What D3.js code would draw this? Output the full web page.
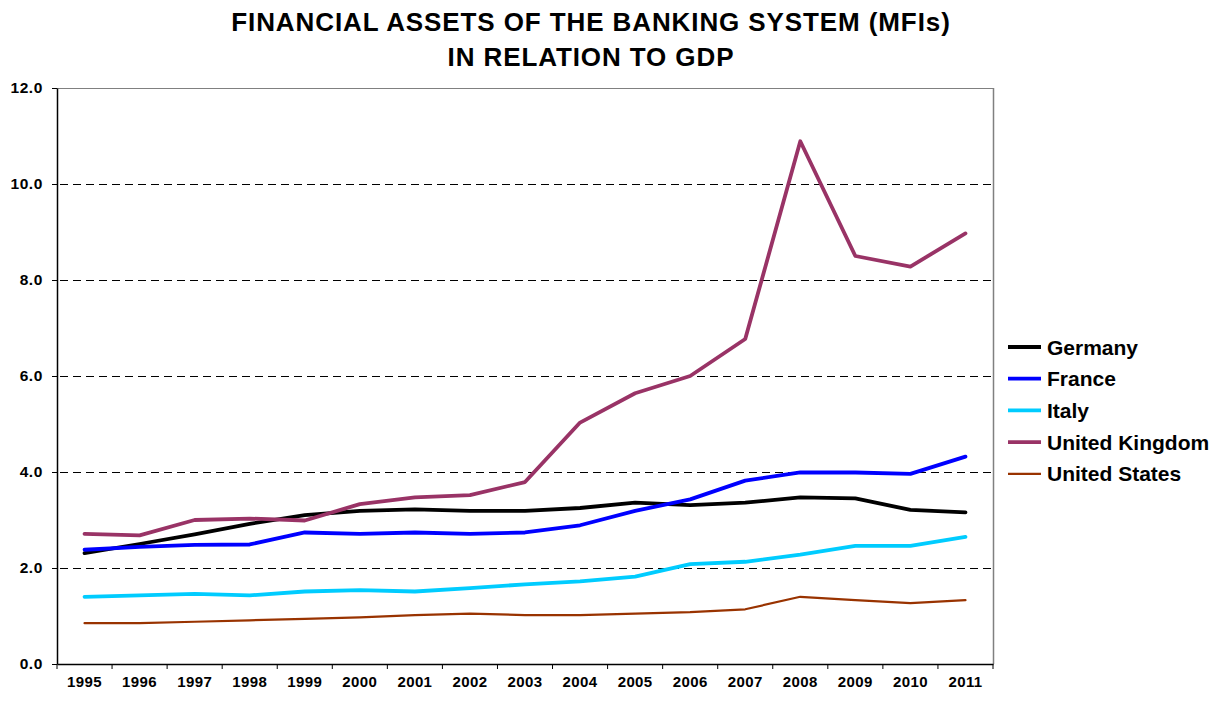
<!DOCTYPE html>
<html>
<head>
<meta charset="utf-8">
<script src="https://cdn.jsdelivr.net/npm/d3@7"></script>
<style>
  html, body { margin: 0; padding: 0; background: #fff; }
  svg { display: block; font-family: "Liberation Sans", Arial, sans-serif; }
</style>
</head>
<body>
<svg id="chart" width="1224" height="702"></svg>
<script>
// Banking system (MFI) financial assets as a multiple of GDP
const years = ["1995","1996","1997","1998","1999","2000","2001","2002","2003",
               "2004","2005","2006","2007","2008","2009","2010","2011"];
const germany = [2.31,2.50,2.70,2.92,3.10,3.19,3.22,3.19,3.19,3.25,3.36,3.31,3.36,3.47,3.45,3.21,3.16];
const france  = [2.38,2.44,2.48,2.49,2.74,2.71,2.74,2.71,2.74,2.89,3.19,3.43,3.82,3.99,3.99,3.96,4.32];
const italy   = [1.40,1.43,1.46,1.43,1.51,1.54,1.51,1.58,1.66,1.72,1.82,2.08,2.13,2.28,2.46,2.46,2.65];
const uk      = [2.71,2.68,3.00,3.03,2.99,3.33,3.47,3.52,3.79,5.03,5.64,6.00,6.77,10.89,8.50,8.28,8.97];
const us      = [0.85,0.85,0.88,0.91,0.94,0.97,1.02,1.05,1.02,1.02,1.05,1.08,1.14,1.40,1.33,1.27,1.33];
const seriesNames = ["Germany","France","Italy","United Kingdom","United States"];
const yTicks = [0,2,4,6,8,10,12];
const titleLines = ["FINANCIAL ASSETS OF THE BANKING SYSTEM (MFIs)", "IN RELATION TO GDP"];

const series = [
  { name: seriesNames[0], values: germany, color: "#000000", width: 3.8 },
  { name: seriesNames[1], values: france,  color: "#0000ff", width: 3.8 },
  { name: seriesNames[2], values: italy,   color: "#00ccff", width: 3.8 },
  { name: seriesNames[3], values: uk,      color: "#993366", width: 3.8 },
  { name: seriesNames[4], values: us,      color: "#993300", width: 2.2 }
];

const svg = d3.select("#chart");
const plot = { left: 57, right: 993, top: 88, bottom: 664 };

const x = d3.scaleBand().domain(years).range([plot.left, plot.right]);
const y = d3.scaleLinear().domain([0, 12]).range([plot.bottom, plot.top]);
const crisp = v => Math.round(v) + 0.5;

// Title
svg.append("g").selectAll("text").data(titleLines).join("text")
  .attr("x", 591).attr("y", (d, i) => 31 + i * 35)
  .attr("text-anchor", "middle")
  .attr("font-size", 26).attr("font-weight", "bold").attr("fill", "#000")
  .attr("letter-spacing", 0.9)
  .text(d => d);

// Dashed horizontal gridlines
svg.append("g").selectAll("line").data(yTicks.filter(t => t > 0 && t < 12)).join("line")
  .attr("x1", plot.left + 3).attr("x2", plot.right)
  .attr("y1", d => crisp(y(d))).attr("y2", d => crisp(y(d)))
  .attr("stroke", "#000").attr("stroke-width", 1).attr("stroke-dasharray", "8,5");

// Plot frame: grey top and right edges
svg.append("line").attr("x1", plot.left).attr("x2", plot.right)
  .attr("y1", crisp(plot.top)).attr("y2", crisp(plot.top)).attr("stroke", "#808080").attr("stroke-width", 1);
svg.append("line").attr("x1", crisp(plot.right)).attr("x2", crisp(plot.right))
  .attr("y1", plot.top).attr("y2", plot.bottom).attr("stroke", "#808080").attr("stroke-width", 1.5);

// Y axis
const yAxis = svg.append("g").attr("transform", `translate(${plot.left},0)`)
  .call(d3.axisLeft(y).tickValues(yTicks).tickFormat(d3.format(".1f")).tickSizeInner(5).tickSizeOuter(0));
yAxis.select(".domain").attr("stroke", "#000").attr("stroke-width", 1.5);
yAxis.selectAll(".tick line").attr("stroke", "#000");
yAxis.selectAll(".tick text").attr("font-size", 15.5).attr("font-weight", "bold")
  .attr("fill", "#000").attr("font-family", "Liberation Sans, Arial, sans-serif")
  .attr("x", -14).attr("letter-spacing", 0.6);

// X axis: ticks between categories
const xAxis = svg.append("g").attr("transform", `translate(0,${plot.bottom})`)
  .call(d3.axisBottom(x).tickSize(0));
xAxis.select(".domain").attr("stroke", "#000").attr("stroke-width", 1.5);
xAxis.selectAll(".tick text").attr("font-size", 15).attr("font-weight", "bold")
  .attr("fill", "#000").attr("font-family", "Liberation Sans, Arial, sans-serif")
  .attr("y", 12).attr("letter-spacing", 0.4);
const bounds = years.map(d => x(d)).concat([x(years[years.length - 1]) + x.bandwidth()]);
svg.append("g").selectAll("line").data(bounds).join("line")
  .attr("x1", d => d).attr("x2", d => d)
  .attr("y1", plot.bottom).attr("y2", plot.bottom + 5)
  .attr("stroke", "#000").attr("stroke-width", 1);

// Series lines
const line = d3.line()
  .x((d, i) => x(years[i]) + x.bandwidth() / 2)
  .y(d => y(d));
svg.append("g").selectAll("path").data(series).join("path")
  .attr("d", d => line(d.values))
  .attr("fill", "none")
  .attr("stroke", d => d.color)
  .attr("stroke-width", d => d.width)
  .attr("stroke-linejoin", "round")
  .attr("stroke-linecap", "round");

// Legend
const legend = svg.append("g").attr("transform", "translate(1008,347)");
const rows = legend.selectAll("g").data(series).join("g")
  .attr("transform", (d, i) => `translate(0,${i * 31.7})`);
rows.append("line").attr("x1", 0).attr("x2", 33).attr("y1", 0).attr("y2", 0)
  .attr("stroke", d => d.color).attr("stroke-width", d => d.width);
rows.append("text").attr("x", 39).attr("y", 7.5)
  .attr("font-size", 21).attr("font-weight", "bold").attr("fill", "#000")
  .text(d => d.name);
</script>
</body>
</html>
